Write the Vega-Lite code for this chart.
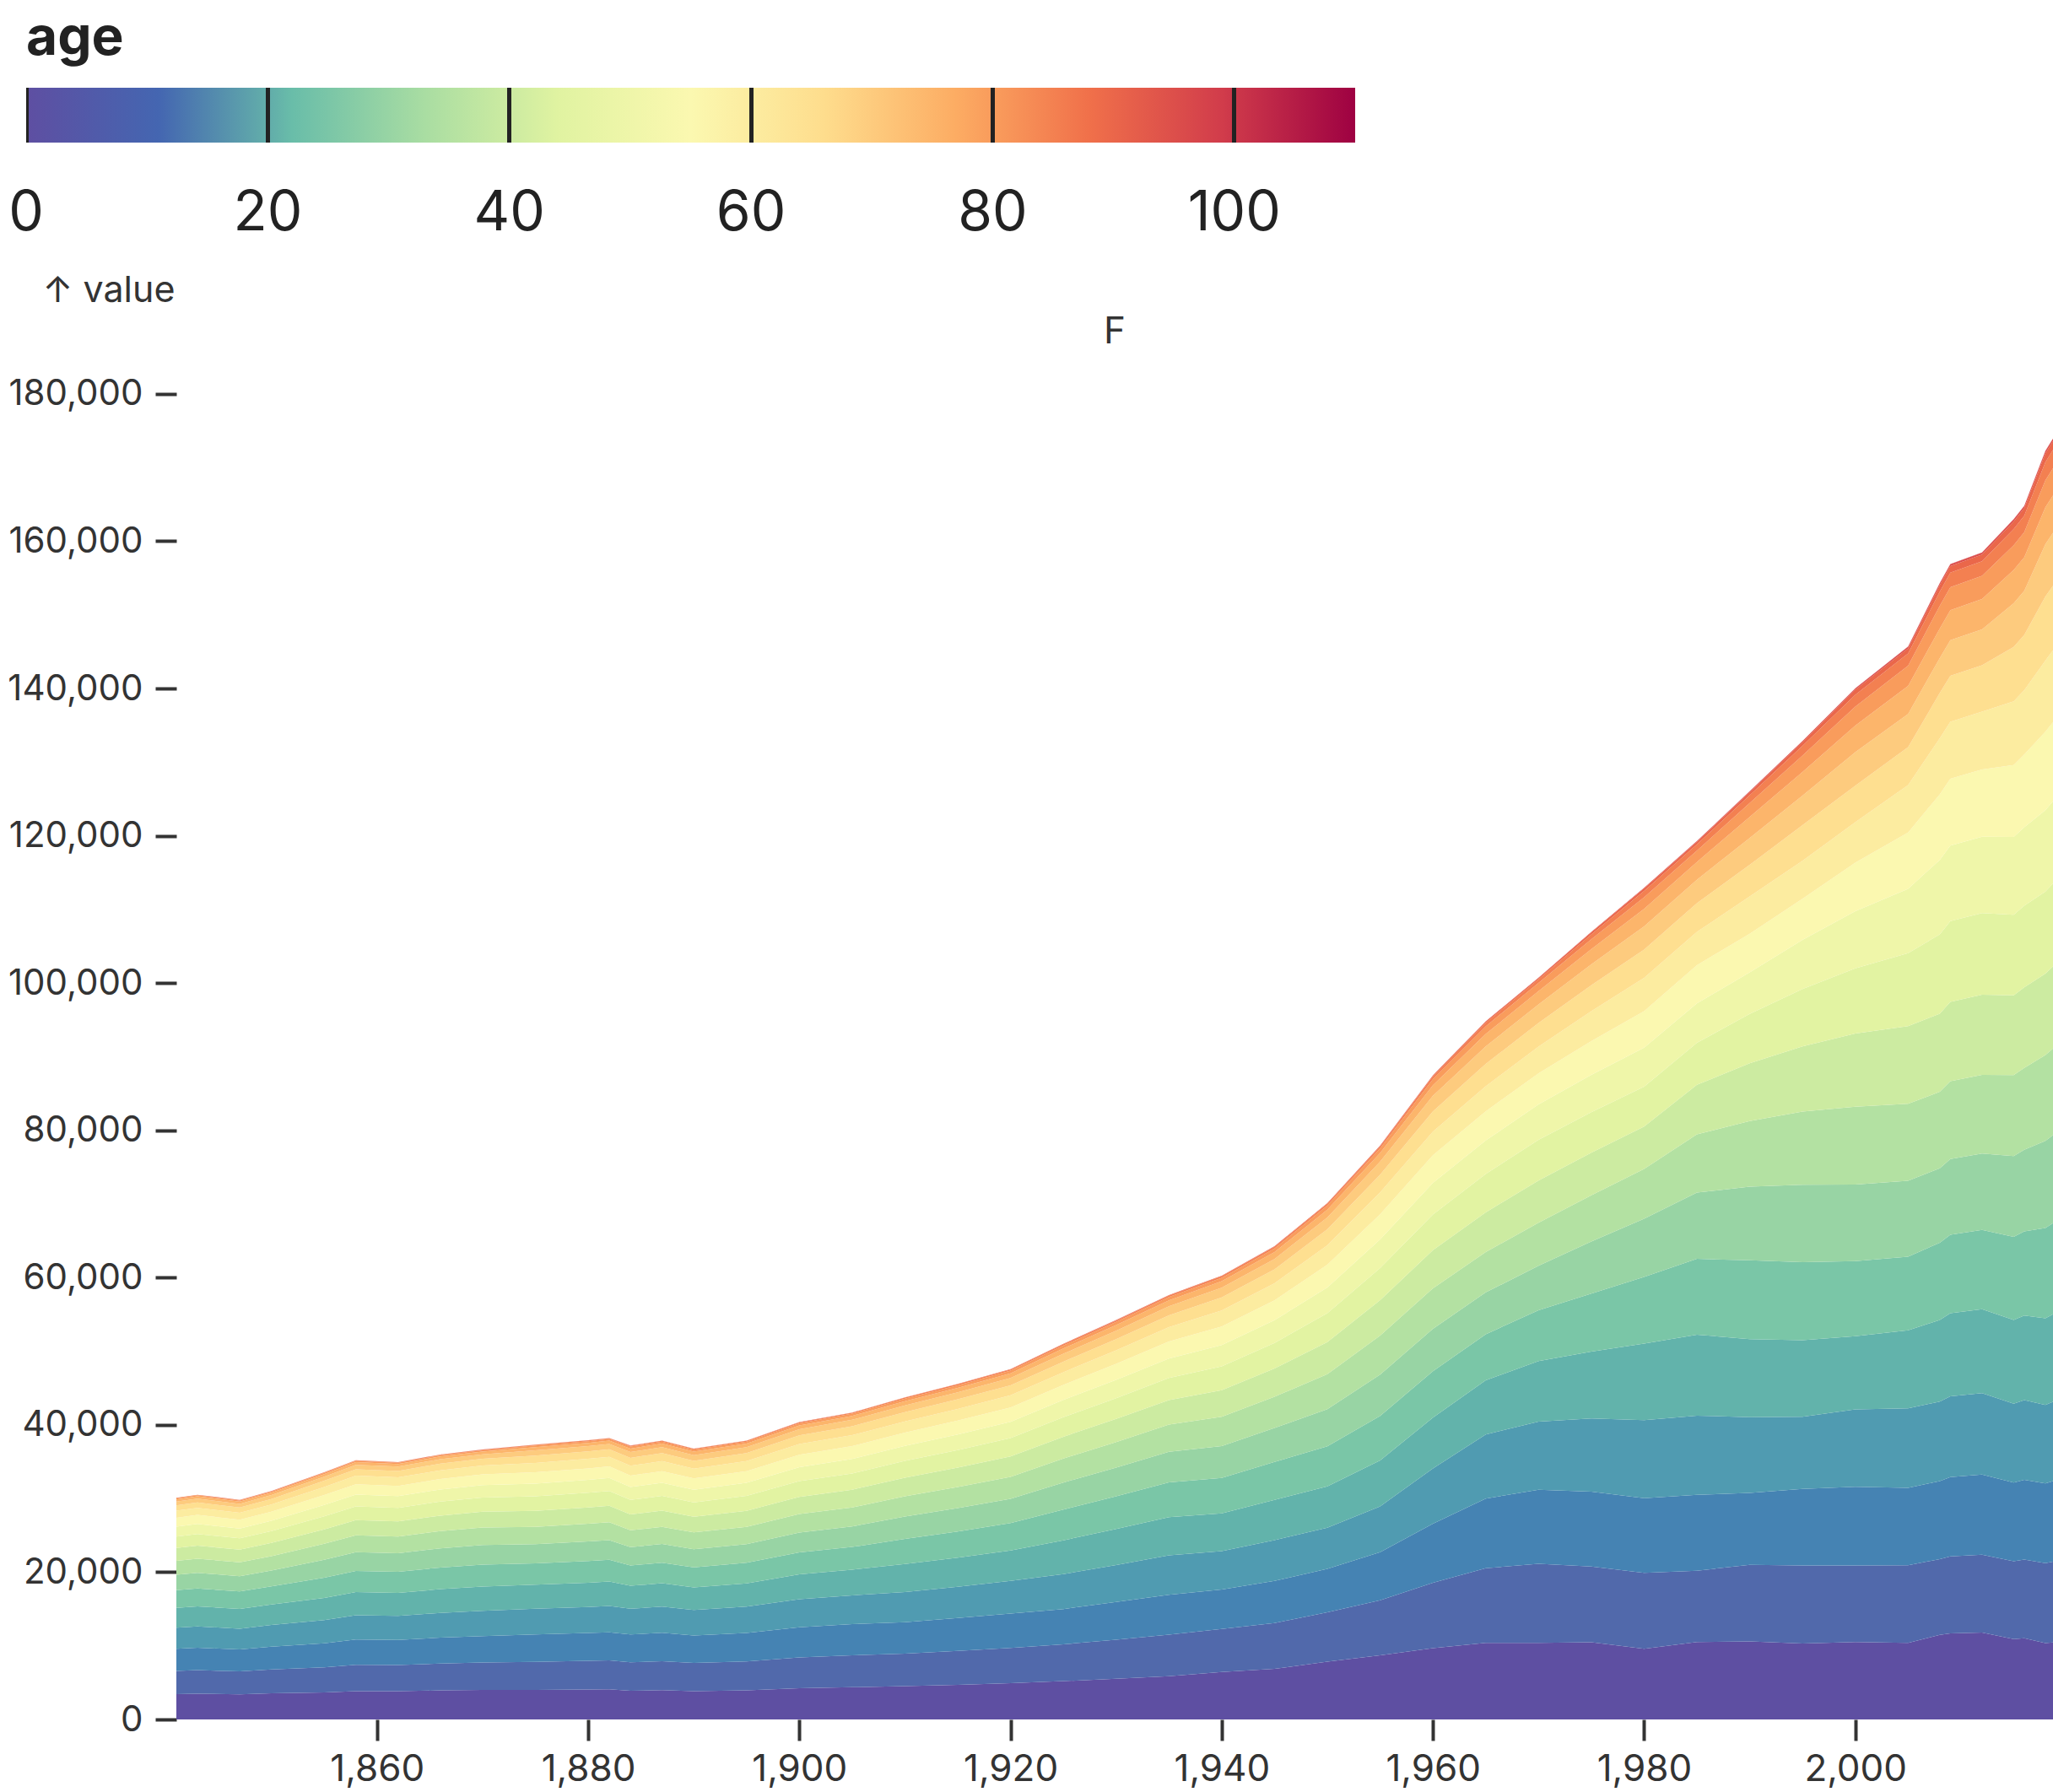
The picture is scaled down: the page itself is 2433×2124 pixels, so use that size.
{
"$schema":"https://vega.github.io/schema/vega-lite/v6.json",
"width":2224,"height":1606,
"autosize":{"type":"none"},
"padding":{"left":209,"top":432,"right":0,"bottom":86},
"background":"white",
"config":{"view":{"stroke":null},"font":"Inter"},
"title":{"text":"F","fontSize":44,"fontWeight":"normal","color":"#333","anchor":"middle","frame":"group","baseline":"alphabetic","offset":-437},
"data":{"values":[
{"year":1841,"age":0,"value":3450},{"year":1841,"age":5,"value":3150},{"year":1841,"age":10,"value":3000},{"year":1841,"age":15,"value":2850},{"year":1841,"age":20,"value":2700},{"year":1841,"age":25,"value":2400},{"year":1841,"age":30,"value":2100},{"year":1841,"age":35,"value":1890},{"year":1841,"age":40,"value":1740},{"year":1841,"age":45,"value":1560},{"year":1841,"age":50,"value":1350},{"year":1841,"age":55,"value":1200},{"year":1841,"age":60,"value":960},{"year":1841,"age":65,"value":720},{"year":1841,"age":70,"value":510},{"year":1841,"age":75,"value":300},{"year":1841,"age":80,"value":150},{"year":1841,"age":85,"value":60},{"year":1841,"age":90,"value":15},{"year":1841,"age":95,"value":3},{"year":1841,"age":100,"value":0},
{"year":1843,"age":0,"value":3500},{"year":1843,"age":5,"value":3190},{"year":1843,"age":10,"value":3040},{"year":1843,"age":15,"value":2890},{"year":1843,"age":20,"value":2740},{"year":1843,"age":25,"value":2430},{"year":1843,"age":30,"value":2130},{"year":1843,"age":35,"value":1920},{"year":1843,"age":40,"value":1760},{"year":1843,"age":45,"value":1580},{"year":1843,"age":50,"value":1370},{"year":1843,"age":55,"value":1220},{"year":1843,"age":60,"value":970},{"year":1843,"age":65,"value":730},{"year":1843,"age":70,"value":520},{"year":1843,"age":75,"value":300},{"year":1843,"age":80,"value":150},{"year":1843,"age":85,"value":60},{"year":1843,"age":90,"value":15},{"year":1843,"age":95,"value":3},{"year":1843,"age":100,"value":0},
{"year":1847,"age":0,"value":3420},{"year":1847,"age":5,"value":3120},{"year":1847,"age":10,"value":2970},{"year":1847,"age":15,"value":2820},{"year":1847,"age":20,"value":2670},{"year":1847,"age":25,"value":2380},{"year":1847,"age":30,"value":2080},{"year":1847,"age":35,"value":1870},{"year":1847,"age":40,"value":1720},{"year":1847,"age":45,"value":1540},{"year":1847,"age":50,"value":1340},{"year":1847,"age":55,"value":1190},{"year":1847,"age":60,"value":950},{"year":1847,"age":65,"value":710},{"year":1847,"age":70,"value":500},{"year":1847,"age":75,"value":300},{"year":1847,"age":80,"value":150},{"year":1847,"age":85,"value":60},{"year":1847,"age":90,"value":15},{"year":1847,"age":95,"value":3},{"year":1847,"age":100,"value":0},
{"year":1850,"age":0,"value":3550},{"year":1850,"age":5,"value":3240},{"year":1850,"age":10,"value":3090},{"year":1850,"age":15,"value":2940},{"year":1850,"age":20,"value":2780},{"year":1850,"age":25,"value":2470},{"year":1850,"age":30,"value":2160},{"year":1850,"age":35,"value":1950},{"year":1850,"age":40,"value":1790},{"year":1850,"age":45,"value":1610},{"year":1850,"age":50,"value":1390},{"year":1850,"age":55,"value":1240},{"year":1850,"age":60,"value":990},{"year":1850,"age":65,"value":740},{"year":1850,"age":70,"value":530},{"year":1850,"age":75,"value":310},{"year":1850,"age":80,"value":150},{"year":1850,"age":85,"value":60},{"year":1850,"age":90,"value":15},{"year":1850,"age":95,"value":3},{"year":1850,"age":100,"value":0},
{"year":1855,"age":0,"value":3670},{"year":1855,"age":5,"value":3410},{"year":1855,"age":10,"value":3270},{"year":1855,"age":15,"value":3140},{"year":1855,"age":20,"value":3010},{"year":1855,"age":25,"value":2740},{"year":1855,"age":30,"value":2440},{"year":1855,"age":35,"value":2170},{"year":1855,"age":40,"value":1970},{"year":1855,"age":45,"value":1770},{"year":1855,"age":50,"value":1540},{"year":1855,"age":55,"value":1340},{"year":1855,"age":60,"value":1100},{"year":1855,"age":65,"value":840},{"year":1855,"age":70,"value":570},{"year":1855,"age":75,"value":330},{"year":1855,"age":80,"value":170},{"year":1855,"age":85,"value":70},{"year":1855,"age":90,"value":17},{"year":1855,"age":95,"value":3},{"year":1855,"age":100,"value":0},
{"year":1858,"age":0,"value":3850},{"year":1858,"age":5,"value":3570},{"year":1858,"age":10,"value":3430},{"year":1858,"age":15,"value":3290},{"year":1858,"age":20,"value":3150},{"year":1858,"age":25,"value":2870},{"year":1858,"age":30,"value":2560},{"year":1858,"age":35,"value":2280},{"year":1858,"age":40,"value":2070},{"year":1858,"age":45,"value":1860},{"year":1858,"age":50,"value":1610},{"year":1858,"age":55,"value":1400},{"year":1858,"age":60,"value":1160},{"year":1858,"age":65,"value":880},{"year":1858,"age":70,"value":600},{"year":1858,"age":75,"value":350},{"year":1858,"age":80,"value":180},{"year":1858,"age":85,"value":70},{"year":1858,"age":90,"value":18},{"year":1858,"age":95,"value":4},{"year":1858,"age":100,"value":0},
{"year":1862,"age":0,"value":3830},{"year":1862,"age":5,"value":3550},{"year":1862,"age":10,"value":3410},{"year":1862,"age":15,"value":3270},{"year":1862,"age":20,"value":3130},{"year":1862,"age":25,"value":2850},{"year":1862,"age":30,"value":2540},{"year":1862,"age":35,"value":2260},{"year":1862,"age":40,"value":2050},{"year":1862,"age":45,"value":1840},{"year":1862,"age":50,"value":1600},{"year":1862,"age":55,"value":1390},{"year":1862,"age":60,"value":1150},{"year":1862,"age":65,"value":870},{"year":1862,"age":70,"value":590},{"year":1862,"age":75,"value":350},{"year":1862,"age":80,"value":170},{"year":1862,"age":85,"value":70},{"year":1862,"age":90,"value":17},{"year":1862,"age":95,"value":3},{"year":1862,"age":100,"value":0},
{"year":1866,"age":0,"value":3940},{"year":1866,"age":5,"value":3650},{"year":1866,"age":10,"value":3510},{"year":1866,"age":15,"value":3370},{"year":1866,"age":20,"value":3220},{"year":1866,"age":25,"value":2940},{"year":1866,"age":30,"value":2610},{"year":1866,"age":35,"value":2330},{"year":1866,"age":40,"value":2110},{"year":1866,"age":45,"value":1900},{"year":1866,"age":50,"value":1650},{"year":1866,"age":55,"value":1430},{"year":1866,"age":60,"value":1180},{"year":1866,"age":65,"value":900},{"year":1866,"age":70,"value":610},{"year":1866,"age":75,"value":360},{"year":1866,"age":80,"value":180},{"year":1866,"age":85,"value":70},{"year":1866,"age":90,"value":18},{"year":1866,"age":95,"value":4},{"year":1866,"age":100,"value":0},
{"year":1870,"age":0,"value":4020},{"year":1870,"age":5,"value":3720},{"year":1870,"age":10,"value":3580},{"year":1870,"age":15,"value":3430},{"year":1870,"age":20,"value":3290},{"year":1870,"age":25,"value":2990},{"year":1870,"age":30,"value":2660},{"year":1870,"age":35,"value":2370},{"year":1870,"age":40,"value":2150},{"year":1870,"age":45,"value":1930},{"year":1870,"age":50,"value":1680},{"year":1870,"age":55,"value":1460},{"year":1870,"age":60,"value":1200},{"year":1870,"age":65,"value":910},{"year":1870,"age":70,"value":620},{"year":1870,"age":75,"value":370},{"year":1870,"age":80,"value":180},{"year":1870,"age":85,"value":70},{"year":1870,"age":90,"value":18},{"year":1870,"age":95,"value":4},{"year":1870,"age":100,"value":0},
{"year":1875,"age":0,"value":4000},{"year":1875,"age":5,"value":3830},{"year":1875,"age":10,"value":3720},{"year":1875,"age":15,"value":3500},{"year":1875,"age":20,"value":3240},{"year":1875,"age":25,"value":2900},{"year":1875,"age":30,"value":2600},{"year":1875,"age":35,"value":2360},{"year":1875,"age":40,"value":2180},{"year":1875,"age":45,"value":1970},{"year":1875,"age":50,"value":1730},{"year":1875,"age":55,"value":1530},{"year":1875,"age":60,"value":1280},{"year":1875,"age":65,"value":1000},{"year":1875,"age":70,"value":710},{"year":1875,"age":75,"value":430},{"year":1875,"age":80,"value":220},{"year":1875,"age":85,"value":90},{"year":1875,"age":90,"value":24},{"year":1875,"age":95,"value":6},{"year":1875,"age":100,"value":0},
{"year":1880,"age":0,"value":4060},{"year":1880,"age":5,"value":3890},{"year":1880,"age":10,"value":3780},{"year":1880,"age":15,"value":3550},{"year":1880,"age":20,"value":3290},{"year":1880,"age":25,"value":2950},{"year":1880,"age":30,"value":2650},{"year":1880,"age":35,"value":2400},{"year":1880,"age":40,"value":2210},{"year":1880,"age":45,"value":2000},{"year":1880,"age":50,"value":1760},{"year":1880,"age":55,"value":1550},{"year":1880,"age":60,"value":1300},{"year":1880,"age":65,"value":1020},{"year":1880,"age":70,"value":720},{"year":1880,"age":75,"value":430},{"year":1880,"age":80,"value":230},{"year":1880,"age":85,"value":95},{"year":1880,"age":90,"value":25},{"year":1880,"age":95,"value":6},{"year":1880,"age":100,"value":0},
{"year":1882,"age":0,"value":4100},{"year":1882,"age":5,"value":3920},{"year":1882,"age":10,"value":3810},{"year":1882,"age":15,"value":3580},{"year":1882,"age":20,"value":3310},{"year":1882,"age":25,"value":2970},{"year":1882,"age":30,"value":2670},{"year":1882,"age":35,"value":2420},{"year":1882,"age":40,"value":2230},{"year":1882,"age":45,"value":2020},{"year":1882,"age":50,"value":1770},{"year":1882,"age":55,"value":1560},{"year":1882,"age":60,"value":1310},{"year":1882,"age":65,"value":1030},{"year":1882,"age":70,"value":720},{"year":1882,"age":75,"value":440},{"year":1882,"age":80,"value":230},{"year":1882,"age":85,"value":95},{"year":1882,"age":90,"value":25},{"year":1882,"age":95,"value":6},{"year":1882,"age":100,"value":0},
{"year":1884,"age":0,"value":3900},{"year":1884,"age":5,"value":3860},{"year":1884,"age":10,"value":3780},{"year":1884,"age":15,"value":3490},{"year":1884,"age":20,"value":3120},{"year":1884,"age":25,"value":2750},{"year":1884,"age":30,"value":2490},{"year":1884,"age":35,"value":2300},{"year":1884,"age":40,"value":2150},{"year":1884,"age":45,"value":1970},{"year":1884,"age":50,"value":1740},{"year":1884,"age":55,"value":1560},{"year":1884,"age":60,"value":1340},{"year":1884,"age":65,"value":1080},{"year":1884,"age":70,"value":780},{"year":1884,"age":75,"value":480},{"year":1884,"age":80,"value":260},{"year":1884,"age":85,"value":110},{"year":1884,"age":90,"value":30},{"year":1884,"age":95,"value":7},{"year":1884,"age":100,"value":0},
{"year":1887,"age":0,"value":3970},{"year":1887,"age":5,"value":3930},{"year":1887,"age":10,"value":3860},{"year":1887,"age":15,"value":3550},{"year":1887,"age":20,"value":3180},{"year":1887,"age":25,"value":2800},{"year":1887,"age":30,"value":2530},{"year":1887,"age":35,"value":2340},{"year":1887,"age":40,"value":2190},{"year":1887,"age":45,"value":2000},{"year":1887,"age":50,"value":1780},{"year":1887,"age":55,"value":1590},{"year":1887,"age":60,"value":1360},{"year":1887,"age":65,"value":1100},{"year":1887,"age":70,"value":790},{"year":1887,"age":75,"value":490},{"year":1887,"age":80,"value":260},{"year":1887,"age":85,"value":110},{"year":1887,"age":90,"value":30},{"year":1887,"age":95,"value":8},{"year":1887,"age":100,"value":0},
{"year":1890,"age":0,"value":3850},{"year":1890,"age":5,"value":3820},{"year":1890,"age":10,"value":3740},{"year":1890,"age":15,"value":3450},{"year":1890,"age":20,"value":3080},{"year":1890,"age":25,"value":2720},{"year":1890,"age":30,"value":2460},{"year":1890,"age":35,"value":2280},{"year":1890,"age":40,"value":2130},{"year":1890,"age":45,"value":1950},{"year":1890,"age":50,"value":1720},{"year":1890,"age":55,"value":1540},{"year":1890,"age":60,"value":1320},{"year":1890,"age":65,"value":1060},{"year":1890,"age":70,"value":770},{"year":1890,"age":75,"value":480},{"year":1890,"age":80,"value":260},{"year":1890,"age":85,"value":110},{"year":1890,"age":90,"value":29},{"year":1890,"age":95,"value":7},{"year":1890,"age":100,"value":0},
{"year":1895,"age":0,"value":3960},{"year":1895,"age":5,"value":3920},{"year":1895,"age":10,"value":3870},{"year":1895,"age":15,"value":3560},{"year":1895,"age":20,"value":3170},{"year":1895,"age":25,"value":2790},{"year":1895,"age":30,"value":2540},{"year":1895,"age":35,"value":2340},{"year":1895,"age":40,"value":2190},{"year":1895,"age":45,"value":2010},{"year":1895,"age":50,"value":1780},{"year":1895,"age":55,"value":1590},{"year":1895,"age":60,"value":1360},{"year":1895,"age":65,"value":1100},{"year":1895,"age":70,"value":790},{"year":1895,"age":75,"value":490},{"year":1895,"age":80,"value":260},{"year":1895,"age":85,"value":110},{"year":1895,"age":90,"value":30},{"year":1895,"age":95,"value":8},{"year":1895,"age":100,"value":0},
{"year":1900,"age":0,"value":4230},{"year":1900,"age":5,"value":4190},{"year":1900,"age":10,"value":4110},{"year":1900,"age":15,"value":3790},{"year":1900,"age":20,"value":3390},{"year":1900,"age":25,"value":2980},{"year":1900,"age":30,"value":2700},{"year":1900,"age":35,"value":2500},{"year":1900,"age":40,"value":2340},{"year":1900,"age":45,"value":2140},{"year":1900,"age":50,"value":1890},{"year":1900,"age":55,"value":1690},{"year":1900,"age":60,"value":1450},{"year":1900,"age":65,"value":1170},{"year":1900,"age":70,"value":850},{"year":1900,"age":75,"value":520},{"year":1900,"age":80,"value":280},{"year":1900,"age":85,"value":120},{"year":1900,"age":90,"value":32},{"year":1900,"age":95,"value":8},{"year":1900,"age":100,"value":0},
{"year":1905,"age":0,"value":4370},{"year":1905,"age":5,"value":4330},{"year":1905,"age":10,"value":4240},{"year":1905,"age":15,"value":3910},{"year":1905,"age":20,"value":3490},{"year":1905,"age":25,"value":3080},{"year":1905,"age":30,"value":2790},{"year":1905,"age":35,"value":2580},{"year":1905,"age":40,"value":2410},{"year":1905,"age":45,"value":2200},{"year":1905,"age":50,"value":1960},{"year":1905,"age":55,"value":1750},{"year":1905,"age":60,"value":1500},{"year":1905,"age":65,"value":1210},{"year":1905,"age":70,"value":870},{"year":1905,"age":75,"value":540},{"year":1905,"age":80,"value":290},{"year":1905,"age":85,"value":120},{"year":1905,"age":90,"value":33},{"year":1905,"age":95,"value":8},{"year":1905,"age":100,"value":0},
{"year":1910,"age":0,"value":4520},{"year":1910,"age":5,"value":4410},{"year":1910,"age":10,"value":4280},{"year":1910,"age":15,"value":4090},{"year":1910,"age":20,"value":3800},{"year":1910,"age":25,"value":3410},{"year":1910,"age":30,"value":3040},{"year":1910,"age":35,"value":2750},{"year":1910,"age":40,"value":2530},{"year":1910,"age":45,"value":2290},{"year":1910,"age":50,"value":2030},{"year":1910,"age":55,"value":1790},{"year":1910,"age":60,"value":1530},{"year":1910,"age":65,"value":1250},{"year":1910,"age":70,"value":920},{"year":1910,"age":75,"value":590},{"year":1910,"age":80,"value":330},{"year":1910,"age":85,"value":140},{"year":1910,"age":90,"value":39},{"year":1910,"age":95,"value":9},{"year":1910,"age":100,"value":0},
{"year":1915,"age":0,"value":4710},{"year":1915,"age":5,"value":4600},{"year":1915,"age":10,"value":4460},{"year":1915,"age":15,"value":4250},{"year":1915,"age":20,"value":3960},{"year":1915,"age":25,"value":3550},{"year":1915,"age":30,"value":3160},{"year":1915,"age":35,"value":2870},{"year":1915,"age":40,"value":2640},{"year":1915,"age":45,"value":2390},{"year":1915,"age":50,"value":2120},{"year":1915,"age":55,"value":1870},{"year":1915,"age":60,"value":1590},{"year":1915,"age":65,"value":1300},{"year":1915,"age":70,"value":960},{"year":1915,"age":75,"value":610},{"year":1915,"age":80,"value":340},{"year":1915,"age":85,"value":150},{"year":1915,"age":90,"value":41},{"year":1915,"age":95,"value":9},{"year":1915,"age":100,"value":0},
{"year":1920,"age":0,"value":4920},{"year":1920,"age":5,"value":4800},{"year":1920,"age":10,"value":4660},{"year":1920,"age":15,"value":4440},{"year":1920,"age":20,"value":4130},{"year":1920,"age":25,"value":3710},{"year":1920,"age":30,"value":3300},{"year":1920,"age":35,"value":2990},{"year":1920,"age":40,"value":2760},{"year":1920,"age":45,"value":2490},{"year":1920,"age":50,"value":2210},{"year":1920,"age":55,"value":1950},{"year":1920,"age":60,"value":1660},{"year":1920,"age":65,"value":1350},{"year":1920,"age":70,"value":1000},{"year":1920,"age":75,"value":640},{"year":1920,"age":80,"value":360},{"year":1920,"age":85,"value":160},{"year":1920,"age":90,"value":43},{"year":1920,"age":95,"value":10},{"year":1920,"age":100,"value":0},
{"year":1925,"age":0,"value":5200},{"year":1925,"age":5,"value":5000},{"year":1925,"age":10,"value":4790},{"year":1925,"age":15,"value":4740},{"year":1925,"age":20,"value":4590},{"year":1925,"age":25,"value":4180},{"year":1925,"age":30,"value":3670},{"year":1925,"age":35,"value":3260},{"year":1925,"age":40,"value":2960},{"year":1925,"age":45,"value":2650},{"year":1925,"age":50,"value":2350},{"year":1925,"age":55,"value":2040},{"year":1925,"age":60,"value":1730},{"year":1925,"age":65,"value":1430},{"year":1925,"age":70,"value":1070},{"year":1925,"age":75,"value":710},{"year":1925,"age":80,"value":410},{"year":1925,"age":85,"value":180},{"year":1925,"age":90,"value":51},{"year":1925,"age":95,"value":10},{"year":1925,"age":100,"value":0},
{"year":1930,"age":0,"value":5530},{"year":1930,"age":5,"value":5310},{"year":1930,"age":10,"value":5100},{"year":1930,"age":15,"value":5040},{"year":1930,"age":20,"value":4880},{"year":1930,"age":25,"value":4440},{"year":1930,"age":30,"value":3900},{"year":1930,"age":35,"value":3470},{"year":1930,"age":40,"value":3140},{"year":1930,"age":45,"value":2820},{"year":1930,"age":50,"value":2490},{"year":1930,"age":55,"value":2170},{"year":1930,"age":60,"value":1840},{"year":1930,"age":65,"value":1520},{"year":1930,"age":70,"value":1140},{"year":1930,"age":75,"value":760},{"year":1930,"age":80,"value":430},{"year":1930,"age":85,"value":190},{"year":1930,"age":90,"value":54},{"year":1930,"age":95,"value":11},{"year":1930,"age":100,"value":0},
{"year":1935,"age":0,"value":5880},{"year":1935,"age":5,"value":5640},{"year":1935,"age":10,"value":5410},{"year":1935,"age":15,"value":5360},{"year":1935,"age":20,"value":5180},{"year":1935,"age":25,"value":4720},{"year":1935,"age":30,"value":4150},{"year":1935,"age":35,"value":3690},{"year":1935,"age":40,"value":3340},{"year":1935,"age":45,"value":3000},{"year":1935,"age":50,"value":2650},{"year":1935,"age":55,"value":2300},{"year":1935,"age":60,"value":1960},{"year":1935,"age":65,"value":1610},{"year":1935,"age":70,"value":1210},{"year":1935,"age":75,"value":810},{"year":1935,"age":80,"value":460},{"year":1935,"age":85,"value":200},{"year":1935,"age":90,"value":58},{"year":1935,"age":95,"value":12},{"year":1935,"age":100,"value":0},
{"year":1940,"age":0,"value":6440},{"year":1940,"age":5,"value":5840},{"year":1940,"age":10,"value":5360},{"year":1940,"age":15,"value":5210},{"year":1940,"age":20,"value":5120},{"year":1940,"age":25,"value":4820},{"year":1940,"age":30,"value":4330},{"year":1940,"age":35,"value":3970},{"year":1940,"age":40,"value":3610},{"year":1940,"age":45,"value":3250},{"year":1940,"age":50,"value":2890},{"year":1940,"age":55,"value":2530},{"year":1940,"age":60,"value":2170},{"year":1940,"age":65,"value":1780},{"year":1940,"age":70,"value":1320},{"year":1940,"age":75,"value":870},{"year":1940,"age":80,"value":480},{"year":1940,"age":85,"value":210},{"year":1940,"age":90,"value":60},{"year":1940,"age":95,"value":12},{"year":1940,"age":100,"value":0},
{"year":1945,"age":0,"value":6870},{"year":1945,"age":5,"value":6230},{"year":1945,"age":10,"value":5710},{"year":1945,"age":15,"value":5550},{"year":1945,"age":20,"value":5460},{"year":1945,"age":25,"value":5140},{"year":1945,"age":30,"value":4620},{"year":1945,"age":35,"value":4240},{"year":1945,"age":40,"value":3850},{"year":1945,"age":45,"value":3470},{"year":1945,"age":50,"value":3080},{"year":1945,"age":55,"value":2700},{"year":1945,"age":60,"value":2310},{"year":1945,"age":65,"value":1890},{"year":1945,"age":70,"value":1410},{"year":1945,"age":75,"value":930},{"year":1945,"age":80,"value":510},{"year":1945,"age":85,"value":220},{"year":1945,"age":90,"value":64},{"year":1945,"age":95,"value":13},{"year":1945,"age":100,"value":0},
{"year":1950,"age":0,"value":7840},{"year":1950,"age":5,"value":6720},{"year":1950,"age":10,"value":5880},{"year":1950,"age":15,"value":5600},{"year":1950,"age":20,"value":5600},{"year":1950,"age":25,"value":5460},{"year":1950,"age":30,"value":5040},{"year":1950,"age":35,"value":4760},{"year":1950,"age":40,"value":4340},{"year":1950,"age":45,"value":3920},{"year":1950,"age":50,"value":3500},{"year":1950,"age":55,"value":3080},{"year":1950,"age":60,"value":2660},{"year":1950,"age":65,"value":2170},{"year":1950,"age":70,"value":1610},{"year":1950,"age":75,"value":1050},{"year":1950,"age":80,"value":560},{"year":1950,"age":85,"value":250},{"year":1950,"age":90,"value":70},{"year":1950,"age":95,"value":14},{"year":1950,"age":100,"value":0},
{"year":1955,"age":0,"value":8710},{"year":1955,"age":5,"value":7470},{"year":1955,"age":10,"value":6540},{"year":1955,"age":15,"value":6220},{"year":1955,"age":20,"value":6220},{"year":1955,"age":25,"value":6070},{"year":1955,"age":30,"value":5600},{"year":1955,"age":35,"value":5290},{"year":1955,"age":40,"value":4820},{"year":1955,"age":45,"value":4360},{"year":1955,"age":50,"value":3890},{"year":1955,"age":55,"value":3420},{"year":1955,"age":60,"value":2960},{"year":1955,"age":65,"value":2410},{"year":1955,"age":70,"value":1790},{"year":1955,"age":75,"value":1170},{"year":1955,"age":80,"value":620},{"year":1955,"age":85,"value":270},{"year":1955,"age":90,"value":78},{"year":1955,"age":95,"value":16},{"year":1955,"age":100,"value":0},
{"year":1960,"age":0,"value":9690},{"year":1960,"age":5,"value":8860},{"year":1960,"age":10,"value":8030},{"year":1960,"age":15,"value":7510},{"year":1960,"age":20,"value":6900},{"year":1960,"age":25,"value":6290},{"year":1960,"age":30,"value":5760},{"year":1960,"age":35,"value":5500},{"year":1960,"age":40,"value":5190},{"year":1960,"age":45,"value":4850},{"year":1960,"age":50,"value":4280},{"year":1960,"age":55,"value":3750},{"year":1960,"age":60,"value":3230},{"year":1960,"age":65,"value":2750},{"year":1960,"age":70,"value":2100},{"year":1960,"age":75,"value":1440},{"year":1960,"age":80,"value":830},{"year":1960,"age":85,"value":380},{"year":1960,"age":90,"value":120},{"year":1960,"age":95,"value":26},{"year":1960,"age":100,"value":0},
{"year":1965,"age":0,"value":10410},{"year":1965,"age":5,"value":10120},{"year":1965,"age":10,"value":9460},{"year":1965,"age":15,"value":8700},{"year":1965,"age":20,"value":7380},{"year":1965,"age":25,"value":6240},{"year":1965,"age":30,"value":5680},{"year":1965,"age":35,"value":5490},{"year":1965,"age":40,"value":5390},{"year":1965,"age":45,"value":5200},{"year":1965,"age":50,"value":4540},{"year":1965,"age":55,"value":3970},{"year":1965,"age":60,"value":3410},{"year":1965,"age":65,"value":3030},{"year":1965,"age":70,"value":2370},{"year":1965,"age":75,"value":1700},{"year":1965,"age":80,"value":1040},{"year":1965,"age":85,"value":470},{"year":1965,"age":90,"value":170},{"year":1965,"age":95,"value":38},{"year":1965,"age":100,"value":0},
{"year":1970,"age":0,"value":10400},{"year":1970,"age":5,"value":10750},{"year":1970,"age":10,"value":10050},{"year":1970,"age":15,"value":9250},{"year":1970,"age":20,"value":8200},{"year":1970,"age":25,"value":6930},{"year":1970,"age":30,"value":6030},{"year":1970,"age":35,"value":5830},{"year":1970,"age":40,"value":5730},{"year":1970,"age":45,"value":5530},{"year":1970,"age":50,"value":4820},{"year":1970,"age":55,"value":4220},{"year":1970,"age":60,"value":3620},{"year":1970,"age":65,"value":3220},{"year":1970,"age":70,"value":2510},{"year":1970,"age":75,"value":1810},{"year":1970,"age":80,"value":1110},{"year":1970,"age":85,"value":500},{"year":1970,"age":90,"value":180},{"year":1970,"age":95,"value":40},{"year":1970,"age":100,"value":0},
{"year":1975,"age":0,"value":10470},{"year":1975,"age":5,"value":10310},{"year":1975,"age":10,"value":10150},{"year":1975,"age":15,"value":9930},{"year":1975,"age":20,"value":9080},{"year":1975,"age":25,"value":7900},{"year":1975,"age":30,"value":7050},{"year":1975,"age":35,"value":6300},{"year":1975,"age":40,"value":5770},{"year":1975,"age":45,"value":5500},{"year":1975,"age":50,"value":5070},{"year":1975,"age":55,"value":4590},{"year":1975,"age":60,"value":4060},{"year":1975,"age":65,"value":3520},{"year":1975,"age":70,"value":2830},{"year":1975,"age":75,"value":2080},{"year":1975,"age":80,"value":1340},{"year":1975,"age":85,"value":670},{"year":1975,"age":90,"value":260},{"year":1975,"age":95,"value":64},{"year":1975,"age":100,"value":11},
{"year":1980,"age":0,"value":9600},{"year":1980,"age":5,"value":10300},{"year":1980,"age":10,"value":10150},{"year":1980,"age":15,"value":10600},{"year":1980,"age":20,"value":10380},{"year":1980,"age":25,"value":9050},{"year":1980,"age":30,"value":7920},{"year":1980,"age":35,"value":6770},{"year":1980,"age":40,"value":5750},{"year":1980,"age":45,"value":5410},{"year":1980,"age":50,"value":5300},{"year":1980,"age":55,"value":4960},{"year":1980,"age":60,"value":4510},{"year":1980,"age":65,"value":3840},{"year":1980,"age":70,"value":3160},{"year":1980,"age":75,"value":2370},{"year":1980,"age":80,"value":1580},{"year":1980,"age":85,"value":850},{"year":1980,"age":90,"value":340},{"year":1980,"age":95,"value":90},{"year":1980,"age":100,"value":11},
{"year":1985,"age":0,"value":10500},{"year":1985,"age":5,"value":9700},{"year":1985,"age":10,"value":10300},{"year":1985,"age":15,"value":10750},{"year":1985,"age":20,"value":11000},{"year":1985,"age":25,"value":10300},{"year":1985,"age":30,"value":9000},{"year":1985,"age":35,"value":7900},{"year":1985,"age":40,"value":6740},{"year":1985,"age":45,"value":5700},{"year":1985,"age":50,"value":5350},{"year":1985,"age":55,"value":5200},{"year":1985,"age":60,"value":4500},{"year":1985,"age":65,"value":3900},{"year":1985,"age":70,"value":3200},{"year":1985,"age":75,"value":2400},{"year":1985,"age":80,"value":1550},{"year":1985,"age":85,"value":850},{"year":1985,"age":90,"value":340},{"year":1985,"age":95,"value":100},{"year":1985,"age":100,"value":12},
{"year":1990,"age":0,"value":10600},{"year":1990,"age":5,"value":10400},{"year":1990,"age":10,"value":9750},{"year":1990,"age":15,"value":10300},{"year":1990,"age":20,"value":10600},{"year":1990,"age":25,"value":10700},{"year":1990,"age":30,"value":10000},{"year":1990,"age":35,"value":8900},{"year":1990,"age":40,"value":7850},{"year":1990,"age":45,"value":6700},{"year":1990,"age":50,"value":5650},{"year":1990,"age":55,"value":5250},{"year":1990,"age":60,"value":5050},{"year":1990,"age":65,"value":4300},{"year":1990,"age":70,"value":3650},{"year":1990,"age":75,"value":2850},{"year":1990,"age":80,"value":1900},{"year":1990,"age":85,"value":1050},{"year":1990,"age":90,"value":420},{"year":1990,"age":95,"value":110},{"year":1990,"age":100,"value":12},
{"year":1995,"age":0,"value":10300},{"year":1995,"age":5,"value":10600},{"year":1995,"age":10,"value":10400},{"year":1995,"age":15,"value":9800},{"year":1995,"age":20,"value":10400},{"year":1995,"age":25,"value":10600},{"year":1995,"age":30,"value":10500},{"year":1995,"age":35,"value":9950},{"year":1995,"age":40,"value":8850},{"year":1995,"age":45,"value":7800},{"year":1995,"age":50,"value":6650},{"year":1995,"age":55,"value":5600},{"year":1995,"age":60,"value":5150},{"year":1995,"age":65,"value":4850},{"year":1995,"age":70,"value":4000},{"year":1995,"age":75,"value":3200},{"year":1995,"age":80,"value":2250},{"year":1995,"age":85,"value":1300},{"year":1995,"age":90,"value":520},{"year":1995,"age":95,"value":140},{"year":1995,"age":100,"value":15},
{"year":2000,"age":0,"value":10500},{"year":2000,"age":5,"value":10400},{"year":2000,"age":10,"value":10700},{"year":2000,"age":15,"value":10500},{"year":2000,"age":20,"value":9950},{"year":2000,"age":25,"value":10200},{"year":2000,"age":30,"value":10400},{"year":2000,"age":35,"value":10550},{"year":2000,"age":40,"value":9950},{"year":2000,"age":45,"value":8850},{"year":2000,"age":50,"value":7750},{"year":2000,"age":55,"value":6600},{"year":2000,"age":60,"value":5500},{"year":2000,"age":65,"value":4950},{"year":2000,"age":70,"value":4550},{"year":2000,"age":75,"value":3600},{"year":2000,"age":80,"value":2600},{"year":2000,"age":85,"value":1600},{"year":2000,"age":90,"value":680},{"year":2000,"age":95,"value":180},{"year":2000,"age":100,"value":20},
{"year":2005,"age":0,"value":10400},{"year":2005,"age":5,"value":10550},{"year":2005,"age":10,"value":10500},{"year":2005,"age":15,"value":10800},{"year":2005,"age":20,"value":10600},{"year":2005,"age":25,"value":10000},{"year":2005,"age":30,"value":10300},{"year":2005,"age":35,"value":10450},{"year":2005,"age":40,"value":10550},{"year":2005,"age":45,"value":9900},{"year":2005,"age":50,"value":8750},{"year":2005,"age":55,"value":7650},{"year":2005,"age":60,"value":6450},{"year":2005,"age":65,"value":5150},{"year":2005,"age":70,"value":4500},{"year":2005,"age":75,"value":3800},{"year":2005,"age":80,"value":2750},{"year":2005,"age":85,"value":1650},{"year":2005,"age":90,"value":700},{"year":2005,"age":95,"value":220},{"year":2005,"age":100,"value":25},
{"year":2008,"age":0,"value":11480},{"year":2008,"age":5,"value":10300},{"year":2008,"age":10,"value":10590},{"year":2008,"age":15,"value":10790},{"year":2008,"age":20,"value":11090},{"year":2008,"age":25,"value":10490},{"year":2008,"age":30,"value":10100},{"year":2008,"age":35,"value":10400},{"year":2008,"age":40,"value":10590},{"year":2008,"age":45,"value":10790},{"year":2008,"age":50,"value":10100},{"year":2008,"age":55,"value":8910},{"year":2008,"age":60,"value":7620},{"year":2008,"age":65,"value":6140},{"year":2008,"age":70,"value":4750},{"year":2008,"age":75,"value":4010},{"year":2008,"age":80,"value":3070},{"year":2008,"age":85,"value":1930},{"year":2008,"age":90,"value":890},{"year":2008,"age":95,"value":250},{"year":2008,"age":100,"value":30},
{"year":2009,"age":0,"value":11680},{"year":2009,"age":5,"value":10470},{"year":2009,"age":10,"value":10770},{"year":2009,"age":15,"value":10970},{"year":2009,"age":20,"value":11270},{"year":2009,"age":25,"value":10670},{"year":2009,"age":30,"value":10270},{"year":2009,"age":35,"value":10570},{"year":2009,"age":40,"value":10770},{"year":2009,"age":45,"value":10970},{"year":2009,"age":50,"value":10270},{"year":2009,"age":55,"value":9060},{"year":2009,"age":60,"value":7750},{"year":2009,"age":65,"value":6240},{"year":2009,"age":70,"value":4830},{"year":2009,"age":75,"value":4080},{"year":2009,"age":80,"value":3120},{"year":2009,"age":85,"value":1960},{"year":2009,"age":90,"value":910},{"year":2009,"age":95,"value":250},{"year":2009,"age":100,"value":30},
{"year":2012,"age":0,"value":11790},{"year":2012,"age":5,"value":10570},{"year":2012,"age":10,"value":10880},{"year":2012,"age":15,"value":11080},{"year":2012,"age":20,"value":11390},{"year":2012,"age":25,"value":10780},{"year":2012,"age":30,"value":10370},{"year":2012,"age":35,"value":10680},{"year":2012,"age":40,"value":10880},{"year":2012,"age":45,"value":11080},{"year":2012,"age":50,"value":10370},{"year":2012,"age":55,"value":9150},{"year":2012,"age":60,"value":7830},{"year":2012,"age":65,"value":6300},{"year":2012,"age":70,"value":4880},{"year":2012,"age":75,"value":4120},{"year":2012,"age":80,"value":3150},{"year":2012,"age":85,"value":1980},{"year":2012,"age":90,"value":920},{"year":2012,"age":95,"value":250},{"year":2012,"age":100,"value":30},
{"year":2015,"age":0,"value":10910},{"year":2015,"age":5,"value":10560},{"year":2015,"age":10,"value":10710},{"year":2015,"age":15,"value":10710},{"year":2015,"age":20,"value":11350},{"year":2015,"age":25,"value":11300},{"year":2015,"age":30,"value":10960},{"year":2015,"age":35,"value":11010},{"year":2015,"age":40,"value":10810},{"year":2015,"age":45,"value":10960},{"year":2015,"age":50,"value":10560},{"year":2015,"age":55,"value":9770},{"year":2015,"age":60,"value":8640},{"year":2015,"age":65,"value":7400},{"year":2015,"age":70,"value":5920},{"year":2015,"age":75,"value":4520},{"year":2015,"age":80,"value":3360},{"year":2015,"age":85,"value":2200},{"year":2015,"age":90,"value":1040},{"year":2015,"age":95,"value":280},{"year":2015,"age":100,"value":35},
{"year":2016,"age":0,"value":11030},{"year":2016,"age":5,"value":10680},{"year":2016,"age":10,"value":10830},{"year":2016,"age":15,"value":10830},{"year":2016,"age":20,"value":11480},{"year":2016,"age":25,"value":11420},{"year":2016,"age":30,"value":11080},{"year":2016,"age":35,"value":11130},{"year":2016,"age":40,"value":10930},{"year":2016,"age":45,"value":11080},{"year":2016,"age":50,"value":10680},{"year":2016,"age":55,"value":9880},{"year":2016,"age":60,"value":8740},{"year":2016,"age":65,"value":7480},{"year":2016,"age":70,"value":5990},{"year":2016,"age":75,"value":4570},{"year":2016,"age":80,"value":3400},{"year":2016,"age":85,"value":2220},{"year":2016,"age":90,"value":1050},{"year":2016,"age":95,"value":280},{"year":2016,"age":100,"value":35},
{"year":2018,"age":0,"value":10360},{"year":2018,"age":5,"value":10850},{"year":2018,"age":10,"value":10850},{"year":2018,"age":15,"value":10660},{"year":2018,"age":20,"value":11760},{"year":2018,"age":25,"value":12260},{"year":2018,"age":30,"value":11840},{"year":2018,"age":35,"value":11640},{"year":2018,"age":40,"value":11050},{"year":2018,"age":45,"value":11150},{"year":2018,"age":50,"value":11050},{"year":2018,"age":55,"value":10660},{"year":2018,"age":60,"value":9670},{"year":2018,"age":65,"value":8680},{"year":2018,"age":70,"value":7110},{"year":2018,"age":75,"value":5030},{"year":2018,"age":80,"value":3650},{"year":2018,"age":85,"value":2470},{"year":2018,"age":90,"value":1180},{"year":2018,"age":95,"value":320},{"year":2018,"age":100,"value":40},
{"year":2019,"age":0,"value":10500},{"year":2019,"age":5,"value":11000},{"year":2019,"age":10,"value":11000},{"year":2019,"age":15,"value":10800},{"year":2019,"age":20,"value":11920},{"year":2019,"age":25,"value":12420},{"year":2019,"age":30,"value":12000},{"year":2019,"age":35,"value":11800},{"year":2019,"age":40,"value":11200},{"year":2019,"age":45,"value":11300},{"year":2019,"age":50,"value":11200},{"year":2019,"age":55,"value":10800},{"year":2019,"age":60,"value":9800},{"year":2019,"age":65,"value":8800},{"year":2019,"age":70,"value":7200},{"year":2019,"age":75,"value":5100},{"year":2019,"age":80,"value":3700},{"year":2019,"age":85,"value":2500},{"year":2019,"age":90,"value":1200},{"year":2019,"age":95,"value":320},{"year":2019,"age":100,"value":40}
]},
"mark":{"type":"area","interpolate":"linear"},
"encoding":{
"x":{"field":"year","type":"quantitative","scale":{"domain":[1841,2018.72],"nice":false,"zero":false},
"axis":{"values":[1860,1880,1900,1920,1940,1960,1980,2000],"format":",d","title":null,"domain":false,"grid":false,"tickSize":25,"tickWidth":4,"tickColor":"#333","labelFontSize":44,"labelColor":"#333","labelPadding":12,"labelFlush":false}},
"y":{"field":"value","type":"quantitative","stack":"zero","scale":{"domain":[0,184000],"nice":false},
"axis":{"values":[0,20000,40000,60000,80000,100000,120000,140000,160000,180000],"format":",d","title":"↑ value","titleAngle":0,"titleAlign":"left","titleBaseline":"alphabetic","titleX":-159,"titleY":-75,"titleFontSize":43,"titleFontWeight":"normal","titleColor":"#333","domain":false,"grid":false,"tickSize":25,"tickWidth":4,"tickColor":"#333","labelFontSize":42,"labelColor":"#333","labelPadding":15}},
"color":{"field":"age","type":"quantitative","scale":{"scheme":"spectral","reverse":true,"domain":[0,110]},
"legend":{"orient":"none","legendX":-178,"legendY":-418,"direction":"horizontal","title":"age","titleFontSize":64,"titleFontWeight":"bold","titleColor":"#222","titlePadding":26,"gradientLength":1575,"gradientThickness":65,"gradientStrokeWidth":0,"values":[0,20,40,60,80,100],"labelFontSize":66,"labelColor":"#222","labelOffset":52,"labelAlign":"center","labelOverlap":false,"padding":0,
"encode":{"labels":{"update":{"align":{"value":"center"}}},
"gradient":{"update":{"fill":{"value":{"gradient":"linear","x1":0,"y1":0,"x2":1,"y2":0,"stops":[
{"offset":0,"color":"#222"},{"offset":0.0016,"color":"#222"},{"offset":0.0016,"color":"#5e4fa2"},{"offset":0.1,"color":"#4466b1"},
{"offset":0.1802,"color":"#62adaa"},{"offset":0.1802,"color":"#222"},{"offset":0.1834,"color":"#222"},{"offset":0.1834,"color":"#62adaa"},{"offset":0.2,"color":"#69bda9"},{"offset":0.3,"color":"#a9dda2"},
{"offset":0.362,"color":"#cceba1"},{"offset":0.362,"color":"#222"},{"offset":0.3652,"color":"#222"},{"offset":0.3652,"color":"#cceba1"},{"offset":0.4,"color":"#e0f3a1"},{"offset":0.5,"color":"#fbf8b0"},
{"offset":0.5439,"color":"#fceca0"},{"offset":0.5439,"color":"#222"},{"offset":0.5471,"color":"#222"},{"offset":0.5471,"color":"#fceca0"},{"offset":0.6,"color":"#fedd8d"},{"offset":0.7,"color":"#fcac63"},
{"offset":0.7257,"color":"#f99c5c"},{"offset":0.7257,"color":"#222"},{"offset":0.7289,"color":"#222"},{"offset":0.7289,"color":"#f99c5c"},{"offset":0.8,"color":"#f0704a"},{"offset":0.9,"color":"#d13c4b"},
{"offset":0.9075,"color":"#cc374a"},{"offset":0.9075,"color":"#222"},{"offset":0.9107,"color":"#222"},{"offset":0.9107,"color":"#cc374a"},{"offset":1,"color":"#9e0142"}]}}}}}}},
"order":{"field":"age","type":"quantitative","sort":"ascending"}
}
}
